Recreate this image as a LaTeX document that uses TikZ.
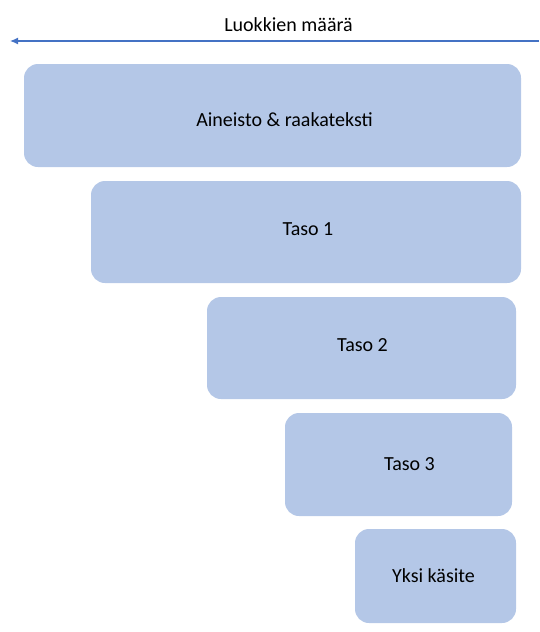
\documentclass[tikz,border=0pt]{standalone}
\usepackage{fontspec}
\setmainfont{Carlito}
\usetikzlibrary{arrows.meta}
\definecolor{boxfill}{HTML}{B4C7E7}
\definecolor{arrowblue}{HTML}{4472C4}
\begin{document}
\begin{tikzpicture}[x=1pt,y=-1pt,every node/.style={font=\fontsize{20}{24}\selectfont},
    level/.style={fill=boxfill,rounded corners=14pt,inner sep=0pt}]
   \useasboundingbox (0,0) rectangle (539,632);
   \coordinate (right) at (539,41);
   \coordinate (left) at (10,41);
   \draw [arrowblue,line width=1.3pt,-{Latex[length=8pt,width=7pt]}] (right) -- (left);
   \node (count) at (288.5,25) {Luokkien määrä};
   \node [level,minimum width=497pt,minimum height=103pt,
     label={[xshift=12pt,yshift=-4pt]center:Aineisto \& raakateksti}] (data) at (272.5,115.5) {};
   \node [level,minimum width=430pt,minimum height=102pt,
     label={[xshift=2pt,yshift=3pt]center:Taso 1}] (lvl1) at (306,232) {};
   \node [level,minimum width=309pt,minimum height=102pt,
     label={[xshift=1pt,yshift=3pt]center:Taso 2}] (lvl2) at (361.5,348) {};
   \node [level,minimum width=227pt,minimum height=103pt,
     label={[xshift=11pt]center:Taso 3}] (lvl3) at (398.5,464.5) {};
   \node [level,minimum width=161pt,minimum height=94pt,
     label={[xshift=-2pt]center:Yksi käsite}] (one) at (435.5,576) {};
  \end{tikzpicture}
\end{document}
